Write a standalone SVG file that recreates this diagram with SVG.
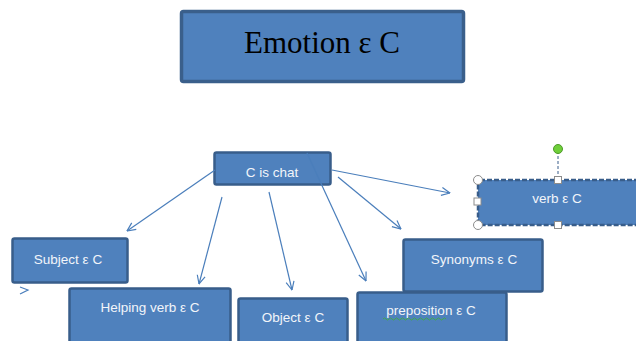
<svg xmlns="http://www.w3.org/2000/svg" width="636" height="341" viewBox="0 0 636 341">
<style>
.box{fill:#4F81BD;stroke:#385D8A;stroke-width:2.5}
.lbl{font-family:"Liberation Sans","DejaVu Sans",sans-serif;font-size:13.5px;fill:#F2F5FA;text-anchor:middle}
.con{stroke:#4A7EBB;stroke-width:1.2;fill:none;marker-end:url(#ah)}
.hnd{fill:#FFFFFF;stroke:#8C8C8C;stroke-width:1}
</style>
<defs>
<marker id="ah" viewBox="0 0 10 10" refX="9.5" refY="5" markerWidth="10" markerHeight="10" markerUnits="userSpaceOnUse" orient="auto">
<path d="M1,1 L9.5,5 L1,9" fill="none" stroke="#4A7EBB" stroke-width="1.2"/>
</marker>
</defs>
<rect width="636" height="341" fill="#FFFFFF"/>
<g id="title">
<rect x="181.5" y="11.5" width="282" height="70" rx="2" fill="#4F81BD" stroke="#3A5F8B" stroke-width="3.5"/>
<text x="322" y="53" font-family="'Liberation Serif','Times New Roman',serif" font-size="31" fill="#000000" text-anchor="middle">Emotion ε C</text>
</g>
<g id="c-is-chat">
<rect class="box" x="214.5" y="152.5" width="116" height="32" rx="2"/>
<text class="lbl" x="272" y="177">C is chat</text>
</g>
<g id="verb">
<rect class="box" x="478" y="180" width="162" height="45" rx="2" stroke-dasharray="5 2"/>
<text class="lbl" x="557" y="203">verb ε C</text>
<line x1="558" y1="151" x2="558" y2="179" stroke="#385D8A" stroke-width="1" stroke-dasharray="3 2"/>
<circle cx="558" cy="149" r="4.5" fill="#6FCF3A" stroke="#4E9A2A" stroke-width="1"/>
<circle class="hnd" cx="478" cy="180" r="4.5"/>
<circle class="hnd" cx="478" cy="225" r="4.5"/>
<rect class="hnd" x="474" y="198" width="7" height="7"/>
<rect class="hnd" x="554.5" y="176.5" width="7" height="7"/>
<rect class="hnd" x="554.5" y="221.5" width="7" height="7"/>
</g>
<g id="subject">
<rect class="box" x="12.5" y="238.5" width="115" height="44" rx="2"/>
<text class="lbl" x="68" y="264">Subject ε C</text>
<path d="M20,287 L28,290 L20,294" fill="none" stroke="#4A7EBB" stroke-width="1.2"/>
</g>
<g id="helping-verb">
<rect class="box" x="69.5" y="288.5" width="161" height="60" rx="2"/>
<text class="lbl" x="150" y="312">Helping verb ε C</text>
</g>
<g id="object">
<rect class="box" x="238.5" y="298.5" width="109" height="50" rx="2"/>
<text class="lbl" x="293" y="322">Object ε C</text>
</g>
<g id="synonyms">
<rect class="box" x="403.5" y="239.5" width="139" height="52" rx="2"/>
<text class="lbl" x="474" y="264">Synonyms  ε C</text>
</g>
<g id="preposition">
<rect class="box" x="357.5" y="292.5" width="149" height="56" rx="2"/>
<text class="lbl" x="431" y="315">preposition ε C</text>
<path d="M383,319 q1.5,-2 3,0 t3,0 t3,0 t3,0 t3,0 t3,0 t3,0 t3,0 t3,0 t3,0 t3,0 t3,0 t3,0 t3,0 t3,0 t3,0 t3,0 t3,0 t3,0 t3,0 t3,0" fill="none" stroke="#3FAF3F" stroke-width="0.9"/>
</g>
<g id="connectors">
<line class="con" x1="215" y1="170" x2="127" y2="231"/>
<line class="con" x1="222" y1="197" x2="199" y2="284"/>
<line class="con" x1="269" y1="192" x2="292" y2="290"/>
<line class="con" x1="307" y1="153" x2="366" y2="281"/>
<line class="con" x1="338" y1="177" x2="401" y2="229"/>
<line class="con" x1="332" y1="170" x2="450" y2="193"/>
</g>
</svg>
